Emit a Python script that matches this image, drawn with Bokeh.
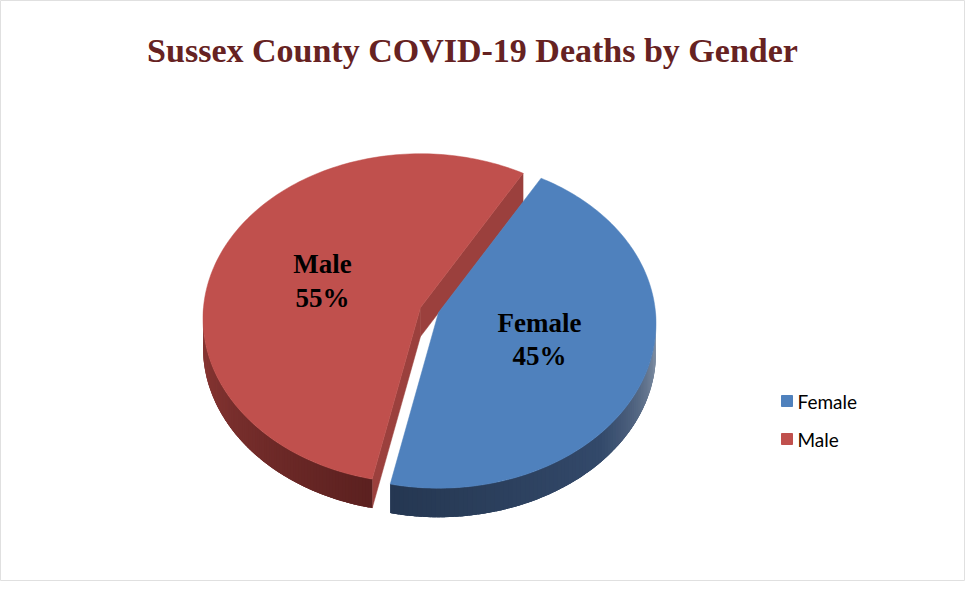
import math
from bokeh.plotting import figure
from bokeh.models import Range1d
from bokeh.core.properties import value
from bokeh.embed import file_html
from bokeh.resources import INLINE

# ---- data ----
categories = ["Female", "Male"]
shares = [45, 55]
top_colors = ["#4F81BD", "#C0504D"]
pct_labels = ["45%", "55%"]
title_text = "Sussex County COVID-19 Deaths by Gender"

# ---- layout (screen pixel coordinates; y is negated) ----
W, H = 965, 581
p = figure(width=W, height=H, output_backend="svg", toolbar_location=None,
           x_range=Range1d(0, W), y_range=Range1d(-H, 0),
           min_border=0)
p.axis.visible = False
p.grid.visible = False
p.outline_line_color = "#e0e0e0"
p.background_fill_color = "white"
p.border_fill_color = "white"

# 3-D pie view: perspective-projected disc
SX, SY, K, DEPTH = 217.0, 164.0, 0.0667, 29.0
START = 30.0
total = float(sum(shares))
spans = []
a = START
for s in shares:
    span = 360.0 * s / total
    spans.append((a, a + span))
    a += span

# exploded apex positions per slice
centers = {"Female": (438.0, 312.0), "Male": (420.0, 307.0)}


def rim(c, ang, dy=0.0):
    r = math.radians(ang)
    u, w = math.sin(r), -math.cos(r)
    s = 1.0 / (1.0 - K * w)
    return c[0] + SX * u * s, c[1] + SY * w * s + dy


def hexmix(c1, c2, t):
    c1 = [int(c1[i:i + 2], 16) for i in (1, 3, 5)]
    c2 = [int(c2[i:i + 2], 16) for i in (1, 3, 5)]
    return "#%02x%02x%02x" % tuple(int(round(c1[k] + (c2[k] - c1[k]) * t)) for k in range(3))


def add_patches(xs, ys, colors, lw=0.0):
    p.patches(xs=[list(px) for px in xs],
              ys=[[-y for y in py] for py in ys],
              fill_color=colors, line_color=colors if lw > 0 else None,
              line_width=lw if lw > 0 else 1)


def side_band(c, a0, a1, col_fn, n=90):
    xs_b, ys_b = [], []
    for i in range(n + 1):
        x, y = rim(c, a0 + (a1 - a0) * i / n)
        xs_b.append(x)
        ys_b.append(y)
    for i in range(n, -1, -1):
        x, y = rim(c, a0 + (a1 - a0) * i / n, DEPTH)
        xs_b.append(x)
        ys_b.append(y)
    add_patches([xs_b], [ys_b], [col_fn((a0 + a1) / 2)])
    xs, ys, cols = [], [], []
    step = (a1 - a0) / n
    for i in range(n):
        t0 = a0 + step * i
        t1 = a0 + step * (i + 1.8)
        t1 = min(t1, a1) if step > 0 else max(t1, a1)
        p0, p1 = rim(c, t0), rim(c, t1)
        q1, q0 = rim(c, t1, DEPTH), rim(c, t0, DEPTH)
        xs.append([p0[0], p1[0], q1[0], q0[0]])
        ys.append([p0[1], p1[1], q1[1], q0[1]])
        cols.append(col_fn(t0 + step / 2))
    add_patches(xs, ys, cols)


def top_face(c, a0, a1, color, n=150):
    xs, ys = [c[0]], [c[1]]
    for i in range(n + 1):
        x, y = rim(c, a0 + (a1 - a0) * i / n)
        xs.append(x)
        ys.append(y)
    add_patches([xs], [ys], [color], lw=0.5)


def cut_face(c, ang, color):
    r0 = rim(c, ang)
    xs = [c[0], r0[0], r0[0], c[0]]
    ys = [c[1], r0[1], r0[1] + DEPTH, c[1] + DEPTH]
    add_patches([xs], [ys], [color], lw=0.5)


# ---- Male slice (back) ----
mi = categories.index("Male")
m0, m1 = spans[mi]
cm = centers["Male"]
cut_face(cm, m1, "#9B403D")
cut_face(cm, m0, "#9B403D")


def male_side(ang):
    t = min(max((270.0 - ang) / 80.0, 0.0), 1.0)
    return hexmix("#8E3936", "#5A201F", t)


side_band(cm, m0, 270.0, male_side)
top_face(cm, m0, m1, top_colors[mi])

# ---- Female slice (front) ----
fi = categories.index("Female")
f0, f1 = spans[fi]
cf = centers["Female"]


def female_side(ang):
    if ang < 135:
        t = (ang - 90.0) / 45.0
        return hexmix("#B4BFCC", "#33496A", max(t, 0.0) ** 0.6)
    t = (ang - 135.0) / 60.0
    return hexmix("#33496A", "#243650", min(t, 1.0))


side_band(cf, 90.0, f1, female_side)
top_face(cf, f0, f1, top_colors[fi])

# ---- slice labels ----
label_pos = {"Male": (322, 263, 297), "Female": (539, 322, 355)}
for i, cat in enumerate(categories):
    lx, ly1, ly2 = label_pos[cat]
    p.text(x=[lx, lx], y=[-ly1, -ly2], text=[cat, pct_labels[i]],
           text_align="center", text_baseline="middle",
           text_font=value("Liberation Serif"), text_font_style="bold",
           text_font_size="27px", text_color="black")

# ---- title ----
p.text(x=[472], y=[-50], text=[title_text], text_align="center",
       text_baseline="middle", text_font=value("Liberation Serif"),
       text_font_style="bold", text_font_size="34px", text_color="#662222")

# ---- legend ----
leg_y = [400.5, 438.5]
for i, cat in enumerate(categories):
    p.rect(x=[786.5], y=[-leg_y[i]], width=11, height=11,
           fill_color=top_colors[i], line_color=top_colors[i])
    p.text(x=[797], y=[-leg_y[i]], text=[cat], text_align="left",
           text_baseline="middle", text_font=value("Lato"),
           text_font_size="19px", text_color="black")

open("out.html", "w").write(file_html(p, INLINE))
